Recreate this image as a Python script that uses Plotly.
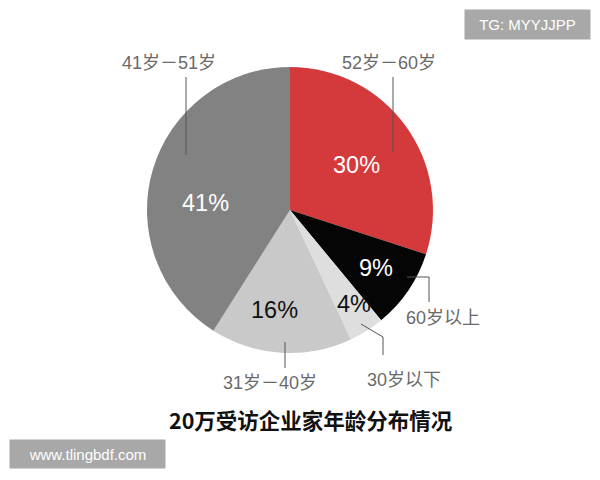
import plotly.graph_objects as go

# data (clockwise from 12 o'clock)
groups = ["52岁－60岁", "60岁以上", "30岁以下", "31岁－40岁", "41岁－51岁"]
shares = [30, 9, 4, 16, 41]
colors = ["#d43a3c", "#050505", "#dedede", "#c9c9c9", "#828282"]

W, H = 600, 480


def px(x, y):
    # pixel position -> paper coords
    return x / W, 1 - y / H


def note(x, y, text, **kw):
    ax, ay = px(x, y)
    d = dict(x=ax, y=ay, xref="paper", yref="paper", text=text,
             showarrow=False, xanchor="center", yanchor="middle")
    d.update(kw)
    return d


cx, cy, r = 290, 210, 143
x0, y1 = px(cx - r, cy - r)
x1, y0 = px(cx + r, cy + r)

fig = go.Figure(go.Pie(
    labels=groups,
    values=shares,
    sort=False,
    direction="clockwise",
    rotation=0,
    marker=dict(colors=colors, line=dict(width=0)),
    textinfo="none",
    hoverinfo="label+percent",
    showlegend=False,
    domain=dict(x=[x0, x1], y=[y0, y1]),
))

# percentage labels inside slices
pct_pos = [(356, 165, "white"), (376, 268, "white"), (354, 304, "#111"),
           (274, 310, "#111"), (205, 203, "white")]
annotations = []
for v, (x, y, c) in zip(shares, pct_pos):
    annotations.append(note(x, y, f"{v}%",
                            font=dict(size=23.5, color=c, family="Liberation Sans")))

# outer category labels
lab_pos = [(389, 63), (443, 318), (404, 380), (270, 383), (169, 63)]
for g, (x, y) in zip(groups, lab_pos):
    annotations.append(note(x, y, g,
                            font=dict(size=18, color="#6a6a6a",
                                      family="Liberation Sans, Noto Sans CJK SC")))

# title
annotations.append(note(311, 419, "<b>20万受访企业家年龄分布情况</b>",
                        font=dict(size=21.5, color="#111", family="Noto Sans CJK SC")))

# watermarks (boxes via annotation background)
for (bx0, by0, bx1, by1, txt) in [(465, 10, 590, 39, "TG: MYYJJPP"),
                                  (10, 440, 165, 468, "www.tlingbdf.com")]:
    annotations.append(note((bx0 + bx1) / 2, (by0 + by1) / 2, txt,
                            bgcolor="#a8a8a8", width=bx1 - bx0,
                            height=by1 - by0, borderpad=0,
                            font=dict(size=15, color="white", family="Liberation Sans")))

# leader lines
shapes = []
leaders = [
    [(393, 77), (393, 152)],
    [(186, 77), (186, 155)],
    [(407, 277), (429, 277), (429, 302)],
    [(361, 324), (383, 337), (383, 355)],
    [(285, 342), (285, 368)],
]
for pts in leaders:
    for (ax_, ay_), (bx_, by_) in zip(pts[:-1], pts[1:]):
        p0 = px(ax_, ay_)
        p1 = px(bx_, by_)
        shapes.append(dict(type="line", xref="paper", yref="paper",
                           x0=p0[0], y0=p0[1], x1=p1[0], y1=p1[1],
                           line=dict(color="#555", width=1), layer="above"))

fig.update_layout(
    width=W, height=H,
    margin=dict(l=0, r=0, t=0, b=0),
    paper_bgcolor="white",
    plot_bgcolor="white",
    annotations=annotations,
    shapes=shapes,
)

fig.write_html("out.html", config={"displayModeBar": False},
               post_script="document.body.style.margin='0px';")
